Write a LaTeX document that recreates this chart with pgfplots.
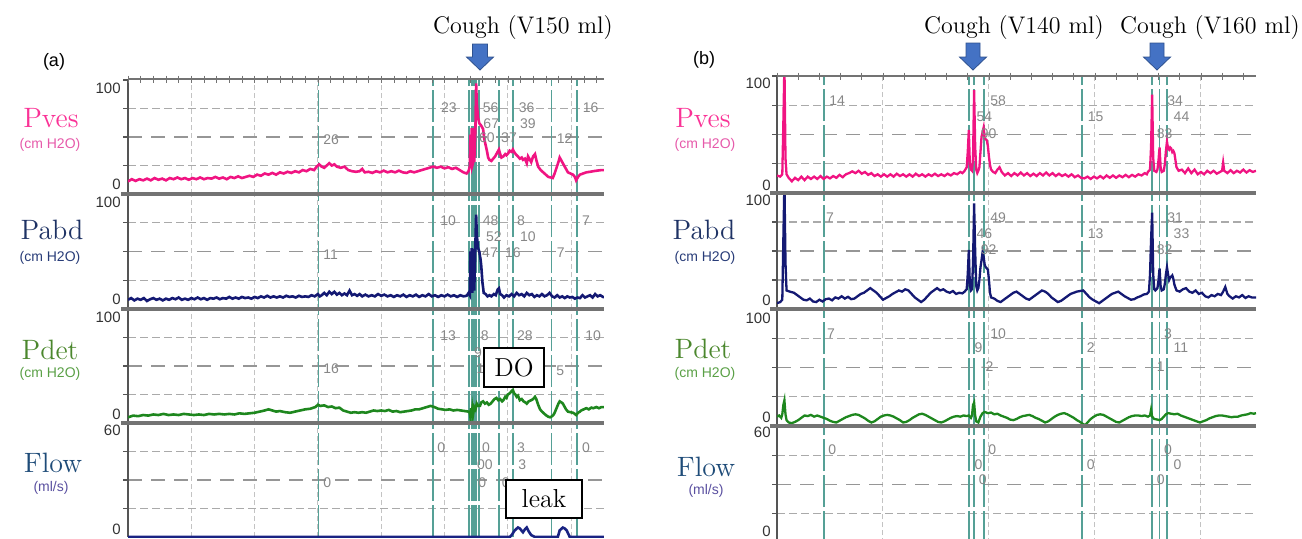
\documentclass[border=0pt]{standalone}
\usepackage{fontspec}
\setsansfont{Liberation Sans}
\usepackage{pgfplots}
\pgfplotsset{compat=1.18}

\definecolor{pvesc}{RGB}{240,20,130}
\definecolor{pabdc}{RGB}{20,25,115}
\definecolor{pdetc}{RGB}{30,135,30}
\definecolor{flowc}{RGB}{25,35,130}
\definecolor{evc}{RGB}{85,160,150}
\definecolor{annc}{RGB}{135,135,135}
\definecolor{pveslab}{RGB}{250,50,150}
\definecolor{pvesunit}{RGB}{230,90,170}
\definecolor{pabdlab}{RGB}{30,50,100}
\definecolor{pabdunit}{RGB}{40,60,120}
\definecolor{pdetlab}{RGB}{75,135,45}
\definecolor{pdetunit}{RGB}{90,160,70}
\definecolor{flowlab}{RGB}{30,75,120}
\definecolor{flowunit}{RGB}{90,80,160}
\definecolor{arrowfill}{RGB}{68,114,196}
\definecolor{arrowdraw}{RGB}{47,82,143}
\definecolor{sepc}{RGB}{115,115,115}
\definecolor{axc}{RGB}{85,85,85}
\definecolor{vgridc}{RGB}{195,195,195}
\definecolor{hgridc}{RGB}{170,170,170}
\definecolor{hmidc}{RGB}{150,150,150}

\newcommand{\serifbig}[1]{\fontsize{#1}{#1}\selectfont\addfontfeatures{FakeBold=0.8}}

\tikzset{
  hgrid/.style={draw=hgridc, line width=0.6pt, dash pattern=on 4pt off 2pt},
  hmid/.style={draw=hmidc, line width=0.8pt, dash pattern=on 7pt off 4.5pt},
  evline/.style={draw=evc, line width=0.9pt, dash pattern=on 16pt off 2pt},
  ann/.style={font=\fontsize{7}{8}\selectfont\sffamily, text=annc, anchor=west, inner sep=0pt},
  lefax/.style={draw=axc, line width=0.75pt},
  tlab/.style={font=\fontsize{7.5}{8}\selectfont\sffamily, text=black!80, inner sep=0pt},
  chlab/.style={font=\serifbig{14}},
  unitlab/.style={font=\fontsize{7}{8}\selectfont\sffamily},
}

\pgfplotsset{
  trk/.style={scale only axis, anchor=north west, axis line style={draw=none},
    clip mode=individual, ymin=0, xmin=0,
    xmajorgrids, tick pos=left, tick align=outside,
    major tick length=2.5pt, xticklabels={}, yticklabels={},
    x tick style={draw=none}, y tick style={draw=axc, line width=0.6pt},
    major x grid style={draw=vgridc, line width=0.5pt, dash pattern=on 2.5pt off 1.5pt},
  },
  trkA/.style={trk, width=238pt, xmax=752, xtick={100,200,...,700}},
  trkB/.style={trk, width=239.5pt, xmax=452, xtick={100,200,300,400}},
  p100/.style={ymax=100, ytick={25,50,75,100}},
  p60/.style={ymax=60, ytick={15,30,45,60}},
}

\newcommand{\hgrids}{%
  \draw[hgrid] (rel axis cs:0,0.25) -- (rel axis cs:1,0.25);
  \draw[hmid] (rel axis cs:0,0.5) -- (rel axis cs:1,0.5);
  \draw[hgrid] (rel axis cs:0,0.75) -- (rel axis cs:1,0.75);
  \draw[lefax] (rel axis cs:0,0) -- (rel axis cs:0,1);
}

\begin{document}
\begin{tikzpicture}
\path[use as bounding box] (0,0) rectangle (651pt,-269pt);

%%%%%%%%%%%%%%%%%%%%%%%% PANEL (a) %%%%%%%%%%%%%%%%%%%%%%%%
% Pves (a)
\begin{axis}[trkA, p100, at={(64pt,-40pt)}, height=57pt]
\hgrids
\pgfplotsinvokeforeach{301,482,539,543,546,550,555,586,608,669,709}{\draw[evline] (axis cs:#1,0) -- (axis cs:#1,100);}
\addplot[pvesc, line width=1.3pt] coordinates {
(0,11) (6,13) (12,11.5) (18,13) (24,12) (30,13.5) (36,12) (42,14) (48,12.5) (54,13.5) (60,12) (66,14) (72,13) (78,14.5) (84,13) (90,14) (96,12.5) (102,14) (108,13) (114,14.5) (120,13) (126,14) (132,13.5) (138,15) (144,13.5) (150,14.5) (156,13) (162,15) (168,14) (174,15.5) (180,14) (186,15) (192,16) (198,15) (204,17) (210,16) (216,18) (222,17) (228,18.5) (234,17) (240,19) (246,18) (252,19.5) (258,18.5) (264,20) (270,19) (276,21) (282,20) (288,22) (294,21) (298,24) (302,26) (306,24) (310,23) (314,25) (318,27) (322,25) (326,26) (330,24) (336,23) (342,24) (348,21) (354,20) (360,19.5) (366,20) (370,22) (374,19) (380,19.5) (386,18.5) (392,20) (398,19) (404,20.5) (410,19) (416,20) (422,19) (428,20.5) (434,19) (440,18.5) (446,20) (452,19) (458,20) (464,21) (470,22) (476,23) (482,24) (488,23) (494,24) (500,22.5) (506,23.5) (512,22) (518,23) (524,21) (530,19) (535,18) (538,20) (540,24) (541,52) (542,24) (543,58) (544,25) (545,27) (546,58) (547,28) (549,60) (550,97) (551,80) (553,67) (555,62) (558,60) (561,57) (563,48) (565,43) (567,38) (569,32) (571,30) (574,29) (577,31) (580,33) (583,36) (586,39) (588,35) (590,32) (593,33) (596,35) (598,34) (601,36) (603,38) (606,37) (608,39) (611,36) (614,34) (616,33) (619,31) (622,32) (624,30) (627,31) (630,27) (632,33) (635,30) (637,28) (640,33) (643,35) (645,30) (648,24) (652,21) (656,19) (660,17) (664,15) (668,14.5) (671,14) (674,18) (677,23) (680,28) (682,32) (685,29) (687,27) (691,23) (695,19) (699,18) (703,17) (706,15) (708,12) (711,15) (714,17) (719,18) (724,19) (730,19.5) (735,20) (741,20.5) (748,21) (752,21)
};
\node[ann] at (axis cs:308,48) {26};
\node[ann] at (axis cs:494,76) {23};
\node[ann] at (axis cs:560,76) {56};
\node[ann] at (axis cs:617,76) {36};
\node[ann] at (axis cs:718,76) {16};
\node[ann] at (axis cs:561,62) {67};
\node[ann] at (axis cs:619,62) {39};
\node[ann] at (axis cs:554,49) {60};
\node[ann] at (axis cs:589,49) {37};
\node[ann] at (axis cs:677,49) {12};
\end{axis}

% Pabd (a)
\begin{axis}[trkA, p100, at={(64pt,-97pt)}, height=57.5pt]
\hgrids
\pgfplotsinvokeforeach{301,482,539,543,546,550,555,586,608,669,709}{\draw[evline] (axis cs:#1,0) -- (axis cs:#1,100);}
\addplot[pabdc, line width=1.3pt] coordinates {
(0,8) (5,9.5) (10,7.5) (15,9) (20,8) (25,9.5) (30,7) (35,8.5) (40,9.5) (45,8) (50,9) (55,7.5) (60,9) (65,8) (70,9.5) (75,8.5) (80,10) (85,8) (90,9) (95,8) (100,9.5) (105,8.5) (110,10) (115,8.5) (120,9.5) (125,8) (130,9.5) (135,9) (140,10) (145,8.5) (150,9.5) (155,9) (160,10.5) (165,9) (170,10) (175,9) (180,10.5) (185,9.5) (190,10) (195,9) (200,10.5) (205,9.5) (210,11) (215,10) (220,11.5) (225,10) (230,11) (235,10) (240,11) (245,10) (250,11.5) (255,10.5) (260,11) (265,10) (270,11.5) (275,10.5) (280,11) (285,10.5) (290,12) (295,11) (300,13) (303,11) (306,12) (310,14) (314,12) (318,15) (322,13) (326,15) (330,12.5) (334,14) (338,12) (342,13.5) (346,12) (350,16) (354,12) (358,13) (362,11.5) (366,13) (370,11) (375,12.5) (380,11) (385,12) (390,11) (395,13) (400,11.5) (405,12.5) (410,11) (415,12) (420,10.5) (425,12) (430,11) (435,12.5) (440,10.5) (445,12) (450,11) (455,12.5) (460,10.5) (465,12) (470,11) (475,13) (480,11) (485,12) (490,10.5) (495,12) (500,11) (505,12.5) (510,11) (515,12) (520,10.5) (525,12) (530,11) (535,11.5) (538,14) (540,12) (541,50) (542,15) (543,53) (544,14) (546,52) (547,16) (549,60) (550,82) (551,65) (553,53) (555,50) (557,43) (558,38) (560,23) (562,14) (565,13) (568,11) (571,12) (574,11) (578,13) (581,12) (584,17) (586,18) (588,13) (591,12) (594,10) (598,12) (602,11) (606,13) (610,11) (614,14) (618,12) (622,13) (626,11) (630,14) (634,12) (638,13) (642,10.5) (646,12) (650,11) (654,13) (658,11) (662,12) (666,14) (670,11) (674,10) (678,12) (682,10) (686,11) (690,9.5) (694,11) (698,10) (702,10.5) (706,9) (710,10) (714,9.5) (718,12) (722,10) (726,11) (730,12) (734,10) (738,13) (742,11) (746,12) (752,10)
};
\node[ann] at (axis cs:308,47) {11};
\node[ann] at (axis cs:493,77) {10};
\node[ann] at (axis cs:560,77) {48};
\node[ann] at (axis cs:614,77) {8};
\node[ann] at (axis cs:717,77) {7};
\node[ann] at (axis cs:565,63) {52};
\node[ann] at (axis cs:619,63) {10};
\node[ann] at (axis cs:559,49) {47};
\node[ann] at (axis cs:595,49) {16};
\node[ann] at (axis cs:677,49) {7};
\end{axis}

% Pdet (a)
\begin{axis}[trkA, p100, at={(64pt,-154.5pt)}, height=57pt]
\hgrids
\pgfplotsinvokeforeach{301,482,539,543,546,550,555,586,608,669,709}{\draw[evline] (axis cs:#1,0) -- (axis cs:#1,100);}
\addplot[pdetc, line width=1.3pt] coordinates {
(0,5) (8,6.5) (16,6) (24,7) (32,6.5) (40,7.5) (48,7) (56,8) (64,7) (72,7.5) (80,7) (88,8) (96,7.5) (104,7) (112,7.5) (120,7) (128,8) (136,7.5) (144,8) (152,7.5) (160,8) (168,7.5) (176,8.5) (184,8) (192,8.5) (200,9) (208,10) (216,11) (222,12) (228,11) (234,10) (240,10.5) (248,9.5) (256,9) (264,10) (272,11) (280,12) (288,12.5) (296,14) (300,16) (304,15) (310,15.5) (316,14) (322,14.5) (328,13) (334,13.5) (340,11) (346,10) (352,9) (358,9.5) (364,9) (370,9.5) (376,9) (382,10) (388,11) (394,10.5) (400,11) (406,10.5) (412,11.5) (418,10) (424,10.5) (430,9.5) (436,10) (442,10.5) (448,11) (454,12) (460,12) (466,13) (472,14) (478,15) (484,14) (490,12.5) (496,12) (502,11.5) (508,12) (514,11) (520,11.5) (526,11) (532,10.5) (538,10) (540,9) (541,5) (542,13) (543,6) (544,12) (545,7) (547,14) (549,12) (551,17) (553,15) (556,15) (558,18) (561,19) (564,17) (567,18) (570,16) (573,17) (576,19) (579,21) (582,22) (585,20) (588,21) (591,19) (593,20) (596,23) (598,22) (600,25) (603,26) (606,28) (608,29) (610,26) (612,25) (614,23) (616,24) (619,20) (622,21) (625,19) (628,18) (630,17) (633,19) (637,20) (640,21) (643,23) (645,21) (648,16) (651,12) (654,10) (656,9) (660,7) (664,5.5) (667,5) (670,6) (672,7) (674,9) (677,13) (680,17) (682,19) (685,18) (687,17) (690,14) (692,12) (695,10) (699,9.5) (703,9) (706,8) (708,7) (711,9) (714,10) (716,11) (720,12) (724,13) (728,12) (732,13.5) (735,13) (740,14) (744,13) (748,14) (752,14)
};
\node[ann] at (axis cs:308,48) {16};
\node[ann] at (axis cs:493,77) {13};
\node[ann] at (axis cs:557,77) {8};
\node[ann] at (axis cs:614,77) {28};
\node[ann] at (axis cs:722,77) {10};
\node[ann] at (axis cs:546,62) {9};
\node[ann] at (axis cs:550,48) {1};
\node[ann] at (axis cs:676,46) {5};
\end{axis}

% Flow (a)
\begin{axis}[trkA, p60, at={(64pt,-211.5pt)}, height=57pt]
\hgrids
\pgfplotsinvokeforeach{301,482,539,543,546,550,555,586,608,669,709}{\draw[evline] (axis cs:#1,0) -- (axis cs:#1,60);}
\addplot[flowc, line width=1.3pt] coordinates {
(0,0) (603,0) (606,1) (611,3.5) (616,5) (619,4.5) (624,2.5) (627,4) (630,5) (633,3) (637,1) (643,0) (679,0) (682,3.5) (687,5) (690,4.5) (693,3.5) (698,0) (752,0)
};
\node[ann] at (axis cs:308,28.4) {0};
\node[ann] at (axis cs:488,47) {0};
\node[ann] at (axis cs:559,47) {0};
\node[ann] at (axis cs:614,47) {3};
\node[ann] at (axis cs:717,47) {0};
\node[ann] at (axis cs:551,38) {00};
\node[ann] at (axis cs:616,38) {3};
\node[ann] at (axis cs:553,28.4) {0};
\node[ann] at (axis cs:590,28.4) {0};
\end{axis}

%%%%%%%%%%%%%%%%%%%%%%%% PANEL (b) %%%%%%%%%%%%%%%%%%%%%%%%
% Pves (b)
\begin{axis}[trkB, p100, at={(388.5pt,-38pt)}, height=58.5pt]
\hgrids
\pgfplotsinvokeforeach{44,181,186,195,288,354,361,368}{\draw[evline] (axis cs:#1,0) -- (axis cs:#1,100);}
\addplot[pvesc, line width=1.15pt] coordinates {
(0,15) (3,14) (5,16) (6,60) (7,110) (8,30) (9,16) (11,13) (14,10) (17,13) (20,11) (23,14) (26,11) (29,14) (32,12) (35,14) (38,12) (41,14.5) (44,12) (47,14) (50,12.5) (53,14.5) (56,13) (59,15.5) (62,13.5) (65,16) (68,17) (71,18.5) (74,17) (77,19) (80,16.5) (83,18) (86,15.5) (89,17) (92,14.5) (95,16) (98,14) (101,16) (104,14) (107,16) (110,14) (113,16.5) (116,14.5) (119,16) (122,14) (125,16) (128,14) (131,16.5) (134,14.5) (137,16) (140,14) (143,16) (146,14.5) (149,16.5) (152,14.5) (155,16) (158,14.5) (161,16.5) (164,15) (167,17) (170,16) (173,18) (175,17) (177,19) (179,22) (180,35) (181,54) (182,24) (183,20) (184,19) (185,30) (186,88) (187,40) (188,20) (189,17) (190,19) (191,22) (192,35) (193,48) (194,52) (195,56) (196,47) (197,46) (198,45) (199,40) (200,31) (201,24) (202,20) (204,18) (206,17) (208,20) (210,22) (212,18) (215,15) (218,17) (221,14.5) (224,17) (227,15) (230,17.5) (233,15) (236,17) (239,14.5) (242,16.5) (245,14.5) (248,17) (251,15) (254,17.5) (257,15) (260,17) (263,14.5) (266,16.5) (269,14.5) (272,16) (275,14) (278,16) (281,13.5) (284,15) (287,13) (290,12.5) (293,14) (296,12) (299,14) (302,12.5) (305,14.5) (308,12.5) (311,15) (314,13) (317,15) (320,13) (323,15) (326,13.5) (329,15.5) (332,13.5) (335,15.5) (338,14) (341,16) (344,15) (347,17) (349,16) (350,18) (352,20) (353,40) (354,84) (355,30) (356,19) (358,18) (359,20) (360,28) (361,39) (362,22) (363,18) (365,19) (366,25) (367,36) (368,44) (369,38) (370,37) (371,39) (372,38) (373,35) (374,36) (375,34) (376,28) (377,22) (379,19) (382,20) (385,17) (388,21) (391,17) (394,20) (397,16) (400,18) (403,16) (406,19) (409,17) (412,19) (415,16.5) (418,18) (420,19) (421,26) (422,19) (425,17) (428,19.5) (431,17) (434,19) (437,17.5) (440,20) (443,17.5) (446,19.5) (449,18) (452,19)
};
\node[ann] at (axis cs:49,79) {14};
\node[ann] at (axis cs:201,79) {58};
\node[ann] at (axis cs:188,65) {54};
\node[ann] at (axis cs:192,51) {90};
\node[ann] at (axis cs:293,65) {15};
\node[ann] at (axis cs:368,79) {34};
\node[ann] at (axis cs:374,65) {44};
\node[ann] at (axis cs:358,51) {83};
\end{axis}

% Pabd (b)
\begin{axis}[trkB, p100, at={(388.5pt,-96.5pt)}, height=58pt]
\hgrids
\pgfplotsinvokeforeach{44,181,186,195,288,354,361,368}{\draw[evline] (axis cs:#1,0) -- (axis cs:#1,100);}
\addplot[pabdc, line width=1.15pt] coordinates {
(0,5) (3,6) (5,8) (6,60) (7,110) (8,40) (9,16) (12,15) (16,14) (19,12) (22,10) (25,8) (28,7.5) (31,9) (34,6.5) (37,6) (40,8) (43,6.5) (46,8.5) (49,9) (52,7.5) (55,10) (58,9) (61,11) (64,9) (67,10.5) (70,8.5) (73,9) (76,11) (79,13) (82,14) (85,16) (88,18) (91,16) (94,14) (97,11) (100,8) (103,9.5) (106,11) (109,13) (112,14.5) (115,16) (118,15) (121,17) (124,16) (127,13) (130,10) (133,8) (136,6) (139,8) (142,11) (145,14) (148,16) (151,18) (154,16) (157,17) (160,15) (163,14) (166,15.5) (169,13) (172,14) (175,13.5) (177,15) (179,17) (180,30) (181,51) (182,20) (183,16) (184,17) (185,40) (186,91) (187,50) (188,20) (189,16) (190,18) (191,25) (192,36) (193,42) (194,49) (195,45) (196,38) (197,36) (198,35) (199,34) (200,25) (201,14) (202,10) (205,9) (208,7) (211,6) (214,8) (217,10) (220,12) (223,14) (226,15) (229,13) (232,11) (235,9) (238,8) (241,10) (244,12) (247,14) (250,16) (253,15) (256,13) (259,10) (262,8) (265,6) (268,7) (271,9) (274,11) (277,13) (280,14) (283,15) (286,15.5) (289,16) (292,13) (295,10) (298,8) (301,6.5) (304,5) (307,7) (310,9) (313,11) (316,13) (319,14) (322,15) (325,13) (328,11) (331,9.5) (334,8) (337,8.5) (340,10) (343,11) (346,12.5) (349,13) (351,15) (352,30) (353,60) (354,83) (355,30) (356,17) (357,16) (359,18) (360,25) (361,35) (362,20) (363,16) (365,17) (366,22) (367,30) (368,36) (369,30) (370,25) (371,27) (372,28) (373,29) (374,26) (375,21) (377,16) (380,15) (383,17) (386,18) (389,15) (392,14) (395,16) (398,13) (401,14) (404,11) (407,10) (410,12) (413,11) (416,13) (419,12) (421,15) (423,19) (425,13) (427,11) (430,9) (433,11) (436,10) (439,12) (442,9.5) (445,11) (448,10) (452,10)
};
\node[ann] at (axis cs:46,79) {7};
\node[ann] at (axis cs:201,79) {49};
\node[ann] at (axis cs:188,65) {46};
\node[ann] at (axis cs:192,51) {92};
\node[ann] at (axis cs:293,65) {13};
\node[ann] at (axis cs:368,79) {31};
\node[ann] at (axis cs:374,65) {33};
\node[ann] at (axis cs:358,51) {82};
\end{axis}

% Pdet (b)
\begin{axis}[trkB, p100, at={(388.5pt,-154.5pt)}, height=58.5pt]
\hgrids
\pgfplotsinvokeforeach{44,181,186,195,288,354,361,368}{\draw[evline] (axis cs:#1,0) -- (axis cs:#1,100);}
\addplot[pdetc, line width=1.15pt] coordinates {
(0,8) (2,9) (4,7) (5,10) (6,18) (7,22) (8,10) (9,5) (11,3) (14,2.5) (17,3.5) (20,5) (23,7) (26,9) (29,8.5) (32,9.5) (35,8) (38,9) (41,8) (44,7) (47,6) (50,4.5) (53,3.5) (56,3) (59,4.5) (62,6) (65,7.5) (68,8.5) (71,9.5) (74,10) (77,9.5) (80,8) (83,6.5) (86,4.5) (89,3) (92,4) (95,6) (98,8) (101,9) (104,9.5) (107,9) (110,8) (113,6.5) (116,5) (119,3) (122,3.5) (125,5) (128,7) (131,8.5) (134,10) (137,10.5) (140,9.5) (143,8) (146,6.5) (149,5) (152,3.5) (155,3) (158,4) (161,5.5) (164,7) (167,8) (170,8.5) (173,8) (176,9) (179,8.5) (181,9) (183,7) (184,9) (185,18) (186,20) (187,9) (188,4) (190,3) (192,8) (194,11) (196,12) (199,11) (202,11.5) (205,10) (208,10.5) (211,9) (214,8) (217,7) (220,5.5) (223,5) (226,6) (229,7.5) (232,8.5) (235,9) (238,9.5) (241,8.5) (244,7) (247,6) (250,4.5) (253,3) (256,4) (259,6) (262,8) (265,9.5) (268,10.5) (271,11) (274,10) (277,8.5) (280,7) (283,5) (286,3.5) (289,1.5) (291,1) (293,3) (296,6) (299,8) (302,9.5) (305,10) (308,9.5) (311,8) (314,6.5) (317,5) (320,3.5) (323,3) (326,4.5) (329,6) (332,7.5) (335,8.5) (338,9) (341,9) (344,8.5) (347,9) (350,8) (352,9) (353,14) (354,8) (356,6) (359,5.5) (361,5) (363,6) (365,8) (367,10) (369,11) (372,10.5) (375,10) (378,10.5) (381,9) (384,8) (387,7) (390,6) (393,5) (396,4) (399,3) (402,4) (405,5) (408,6.5) (411,7.5) (414,8.5) (417,9) (420,9) (423,8.5) (426,8) (429,7.5) (432,8) (435,8) (438,9) (441,9.5) (444,10) (447,11) (450,10.5) (452,11)
};
\node[ann] at (axis cs:47,79) {7};
\node[ann] at (axis cs:201,79) {10};
\node[ann] at (axis cs:186,67) {9};
\node[ann] at (axis cs:192,51) {-2};
\node[ann] at (axis cs:292,67) {2};
\node[ann] at (axis cs:365,79) {3};
\node[ann] at (axis cs:374,67) {11};
\node[ann] at (axis cs:358,51) {1};
\end{axis}

% Flow (b)
\begin{axis}[trkB, p60, at={(388.5pt,-213pt)}, height=58.5pt]
\hgrids
\pgfplotsinvokeforeach{44,181,186,195,288,354,361,368}{\draw[evline] (axis cs:#1,0) -- (axis cs:#1,60);}
\addplot[flowc, line width=1.15pt] coordinates {(0,0) (452,0)};
\node[ann] at (axis cs:48,47.7) {0};
\node[ann] at (axis cs:199,47.7) {0};
\node[ann] at (axis cs:186,40) {0};
\node[ann] at (axis cs:190,32.3) {0};
\node[ann] at (axis cs:292,40) {0};
\node[ann] at (axis cs:365,47.7) {0};
\node[ann] at (axis cs:374,40) {0};
\node[ann] at (axis cs:358,32.3) {0};
\end{axis}

%%%%%%%%%%%%%%%%%%%%%%%% OVERLAYS (pixel units) %%%%%%%%%%%%%%%%%%%%%%%%
\begin{scope}[x=0.5pt,y=-0.5pt]
% top lines with ticks
\draw[draw=sepc, line width=1pt] (128,79) -- (604,79);
\foreach \i in {0,...,37} \draw[draw=sepc, line width=0.5pt] ({128+12.667*\i},75.5) -- ++(0,7);
\draw[draw=sepc, line width=1pt] (777,76) -- (1256,76);
\foreach \i in {0,...,22} \draw[draw=sepc, line width=0.5pt] ({777+21.2*\i},72.5) -- ++(0,7);
% separators
\foreach \yy in {194,309,423} \draw[draw=sepc, line width=1.6pt] (121,\yy) -- (604,\yy);
\foreach \yy in {193,309,426} \draw[draw=sepc, line width=1.6pt] (770,\yy) -- (1256,\yy);

% tick labels (a)
\node[tlab, anchor=north east] at (121,83) {100};
\node[tlab, anchor=south east] at (121,190) {0};
\node[tlab, anchor=north east] at (121,197) {100};
\node[tlab, anchor=south east] at (121,305) {0};
\node[tlab, anchor=north east] at (121,312) {100};
\node[tlab, anchor=south east] at (121,420) {0};
\node[tlab, anchor=north east] at (121,425) {60};
\node[tlab, anchor=south east] at (121,535) {0};
% tick labels (b)
\node[tlab, anchor=north east] at (771,78) {100};
\node[tlab, anchor=south east] at (771,191) {0};
\node[tlab, anchor=north east] at (771,195) {100};
\node[tlab, anchor=south east] at (771,306) {0};
\node[tlab, anchor=north east] at (771,313) {100};
\node[tlab, anchor=south east] at (771,423) {0};
\node[tlab, anchor=north east] at (771,427) {60};
\node[tlab, anchor=south east] at (771,537) {0};

% channel labels (a)
\node[chlab, text=pveslab] at (51,118) {Pves};
\node[unitlab, text=pvesunit] at (50,145) {(cm H2O)};
\node[chlab, text=pabdlab] at (52,230) {Pabd};
\node[unitlab, text=pabdunit] at (50,258) {(cm H2O)};
\node[chlab, text=pdetlab] at (50,350) {Pdet};
\node[unitlab, text=pdetunit] at (50,374) {(cm H2O)};
\node[chlab, text=flowlab] at (53,463) {Flow};
\node[unitlab, text=flowunit] at (51,488) {(ml/s)};
% channel labels (b)
\node[chlab, text=pveslab] at (703,118) {Pves};
\node[unitlab, text=pvesunit] at (705,145) {(cm H2O)};
\node[chlab, text=pabdlab] at (704,230) {Pabd};
\node[unitlab, text=pabdunit] at (705,258) {(cm H2O)};
\node[chlab, text=pdetlab] at (703,349) {Pdet};
\node[unitlab, text=pdetunit] at (705,374) {(cm H2O)};
\node[chlab, text=flowlab] at (706,467) {Flow};
\node[unitlab, text=flowunit] at (706,491) {(ml/s)};

% panel letters
\node[font=\fontsize{9}{10}\selectfont\sffamily] at (54,62) {(a)};
\node[font=\fontsize{9}{10}\selectfont\sffamily] at (704,60) {(b)};

% cough titles
\node[font=\serifbig{12}] at (523,28) {Cough (V150 ml)};
\node[font=\serifbig{12}] at (1014,28) {Cough (V140 ml)};
\node[font=\serifbig{12}] at (1210,28) {Cough (V160 ml)};

% arrows
\filldraw[fill=arrowfill, draw=arrowdraw, line width=0.4pt] (472.5,44) -- (487.5,44) -- (487.5,57) -- (493.5,57) -- (480,70) -- (466.5,57) -- (472.5,57) -- cycle;
\filldraw[fill=arrowfill, draw=arrowdraw, line width=0.4pt] (966,43) -- (980,43) -- (980,57) -- (986.5,57) -- (973,70) -- (959.5,57) -- (966,57) -- cycle;
\filldraw[fill=arrowfill, draw=arrowdraw, line width=0.4pt] (1150,43) -- (1164,43) -- (1164,57) -- (1170.5,57) -- (1157,70) -- (1143.5,57) -- (1150,57) -- cycle;

% boxes
\draw[fill=white, draw=black, line width=0.6pt] (484,348) rectangle (544,387);
\node[font=\serifbig{13}] at (514,367.5) {DO};
\draw[fill=white, draw=black, line width=0.6pt] (506,480) rectangle (582,518);
\node[font=\serifbig{13}] at (544,499) {leak};
\end{scope}
\end{tikzpicture}
\end{document}
